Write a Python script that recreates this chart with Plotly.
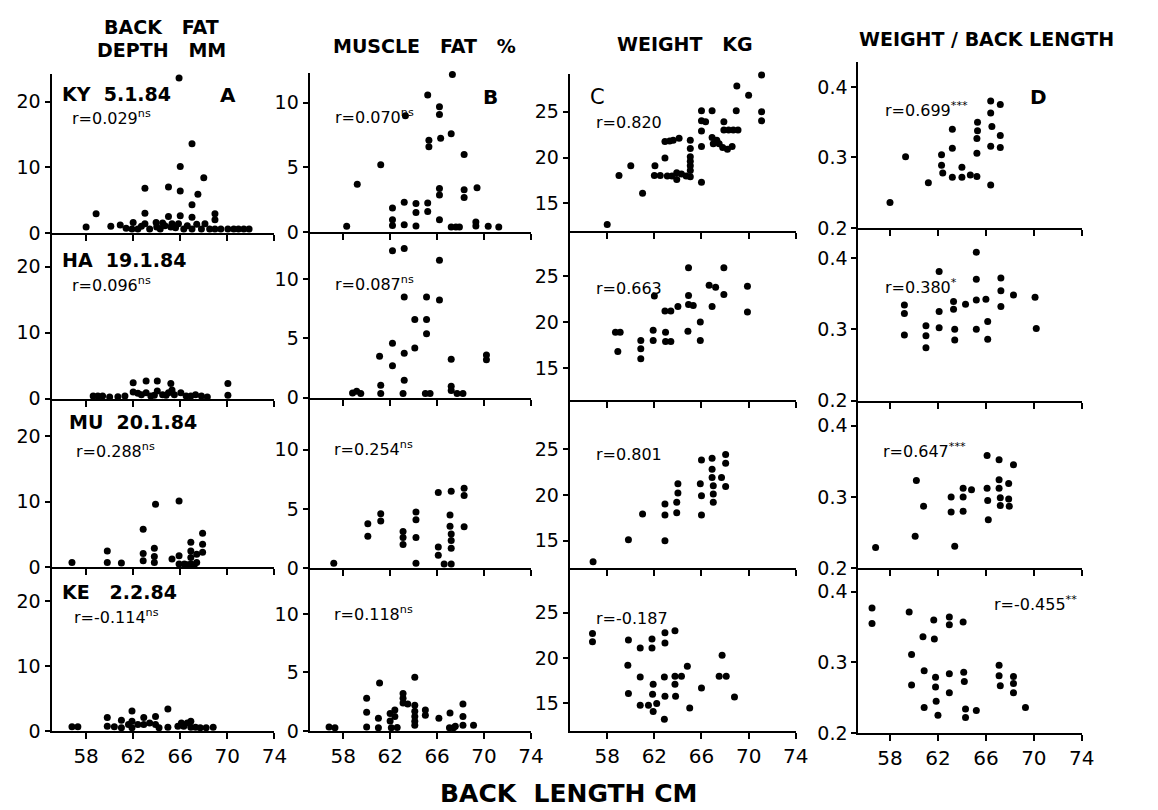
import plotly.graph_objects as go

W, H = 1158, 810

# ---------------- data ----------------
x_ticks = [58, 62, 66, 70, 74]
fat_ticks = [0, 10, 20]
muscle_ticks = [0, 5, 10]
weight_ticks = [15, 20, 25]
ratio_ticks = [0.2, 0.3, 0.4]
ratio_tick_text = ["0.2", "0.3", "0.4"]

# A: back fat depth (mm)
ky_fat_x = [58.0, 58.85, 60.1, 60.9, 61.4, 61.9, 62.0, 62.4, 62.7, 63.0, 63.0, 63.0, 63.4, 63.95, 64.0, 64.3,
            64.5, 64.7, 65.0, 65.0, 65.2, 65.3, 65.6, 65.85, 65.9, 66.0, 66.0, 66.0, 66.3, 66.6, 67.0, 67.0,
            67.0, 67.0, 67.4, 67.5, 67.8, 68.0, 68.1, 68.5, 68.95, 68.95, 68.95, 69.45, 70.05, 70.55, 70.95,
            71.4, 71.85]
ky_fat_y = [0.9, 2.9, 1.0, 1.2, 0.7, 0.6, 1.6, 0.6, 1.0, 6.8, 3.0, 1.4, 0.6, 1.6, 0.9, 0.6,
            1.5, 1.1, 7.0, 2.5, 0.9, 1.4, 0.8, 1.4, 23.6, 10.1, 6.4, 2.6, 0.6, 1.1, 13.6, 4.3,
            2.4, 0.6, 1.3, 5.9, 0.6, 8.4, 1.4, 0.6, 2.9, 2.0, 0.6, 0.6, 0.6, 0.6, 0.6,
            0.6, 0.6]

ha_fat_x = [58.6, 59.0, 59.4, 60.0, 60.7, 61.3, 62.0, 62.0, 62.4, 62.7, 63.1, 63.1, 63.5, 63.8, 64.05, 64.05,
            64.5, 64.8, 65.0, 65.2, 65.3, 65.5, 66.05, 66.5, 66.9, 67.3, 67.8, 68.3, 70.05, 70.05]
ha_fat_y = [0.4, 0.4, 0.4, 0.25, 0.3, 0.4, 2.4, 1.0, 0.8, 0.6, 2.65, 0.9, 0.4, 0.5, 2.65, 1.15,
            0.6, 0.5, 0.9, 2.3, 1.3, 0.6, 0.9, 0.4, 0.4, 0.6, 0.4, 0.25, 2.3, 0.5]

mu_fat_x = [56.8, 59.8, 59.8, 61.0, 62.85, 62.85, 62.85, 63.9, 63.8, 63.8, 63.8, 65.3, 65.9, 65.9, 65.9,
            66.35, 66.6, 66.9, 66.9, 66.9, 66.9, 67.2, 67.4, 67.4, 67.9, 67.9, 67.9]
mu_fat_y = [0.75, 2.5, 0.75, 0.65, 5.8, 2.1, 1.0, 9.6, 2.9, 1.65, 0.75, 1.25, 10.1, 1.75, 0.5,
            0.5, 0.4, 3.8, 2.5, 1.5, 0.5, 0.4, 2.0, 0.75, 5.2, 3.5, 2.3]

ke_fat_x = [56.8, 57.3, 59.8, 59.8, 60.4, 61.0, 61.0, 61.6, 61.9, 61.9, 61.9, 62.4, 62.9, 62.9, 63.4, 63.9,
            63.9, 64.2, 64.95, 64.95, 65.8, 66.1, 66.3, 66.6, 66.9, 66.9, 67.3, 67.7, 68.2, 68.8]
ke_fat_y = [0.65, 0.65, 2.1, 0.75, 0.65, 1.65, 0.5, 1.0, 3.1, 1.5, 0.5, 1.0, 2.1, 1.0, 1.25, 2.25,
            1.0, 0.5, 3.4, 0.6, 0.75, 1.25, 0.75, 1.25, 1.5, 0.6, 0.6, 0.5, 0.5, 0.6]

# B: muscle fat (%)
ky_mus_x = [58.3, 59.2, 61.2, 62.2, 62.2, 62.2, 63.2, 63.2, 63.3, 64.2, 64.2, 64.2, 65.2, 65.3, 65.3, 65.2,
            65.2, 66.2, 66.2, 66.3, 66.2, 66.2, 66.2, 67.3, 67.2, 67.2, 67.6, 67.9, 68.3, 68.3, 68.3, 69.4,
            69.3, 69.3, 70.35, 71.25]
ky_mus_y = [0.43, 3.7, 5.2, 1.86, 0.94, 0.5, 2.3, 0.56, 9.0, 2.2, 1.5, 0.46, 10.6, 7.1, 6.6, 2.24,
            1.58, 9.7, 9.1, 7.25, 3.36, 2.85, 0.94, 12.2, 7.6, 0.38, 0.38, 0.38, 6.0, 3.26, 2.67, 3.43,
            0.76, 0.46, 0.43, 0.38]

ha_mus_x = [58.8, 59.15, 59.5, 61.2, 61.2, 61.1, 62.2, 62.2, 62.2, 63.1, 63.2, 63.2, 63.2, 63.2, 64.1, 64.1,
            65.1, 65.1, 65.1, 65.0, 65.4, 66.2, 66.2, 67.2, 67.2, 67.2, 67.7, 68.2, 70.2, 70.2]
ha_mus_y = [0.4, 0.55, 0.36, 0.36, 1.05, 3.5, 12.4, 4.6, 2.7, 0.36, 12.6, 8.5, 3.75, 1.47, 6.6, 4.2,
            8.5, 6.6, 5.4, 0.36, 0.36, 11.6, 8.25, 3.25, 0.97, 0.6, 0.36, 0.36, 3.6, 3.2]

mu_mus_x = [57.2, 60.1, 60.1, 61.2, 61.2, 63.1, 63.1, 63.1, 64.2, 64.2, 64.2, 64.2, 66.1, 66.1, 66.1, 66.6,
            67.2, 67.1, 67.1, 67.2, 67.2, 67.2, 67.2, 68.3, 68.3, 68.3]
mu_mus_y = [0.42, 3.75, 2.7, 4.6, 4.0, 3.1, 2.6, 2.0, 4.75, 4.1, 2.6, 0.42, 6.4, 1.8, 1.1, 0.36,
            6.5, 4.5, 3.55, 2.9, 2.35, 1.7, 0.36, 6.75, 6.15, 3.5]

ke_mus_x = [56.8, 57.3, 60.0, 60.0, 60.0, 61.1, 61.0, 61.0, 62.0, 62.0, 62.1, 62.4, 62.4, 62.6, 63.1, 63.1,
            63.1, 63.5, 64.1, 64.1, 64.1, 64.1, 64.1, 64.1, 65.0, 65.0, 66.15, 67.1, 67.05, 67.4, 67.55,
            68.2, 68.2, 68.2, 69.1]
ke_mus_y = [0.34, 0.28, 2.8, 1.6, 0.34, 4.1, 1.1, 0.28, 1.5, 0.85, 0.28, 1.8, 1.25, 0.3, 3.2, 2.8,
            2.4, 2.3, 4.6, 2.2, 1.7, 1.25, 0.84, 0.5, 1.8, 1.35, 1.1, 1.55, 0.28, 0.28, 0.42,
            2.3, 1.25, 0.5, 0.5]

# C: weight (kg)
ky_wt_x = [58.0, 59.0, 60.0, 61.0, 62.05, 62.0, 62.5, 63.1, 63.5, 62.9, 62.9, 63.3, 63.6, 64.1, 63.9, 63.9,
           64.3, 64.7, 65.05, 65.05, 65.05, 65.05, 65.05, 65.05, 65.05, 66.0, 66.35, 66.0, 66.0, 66.0, 66.0,
           66.9, 66.9, 67.3, 67.5, 67.0, 67.8, 68.2, 67.9, 67.9, 68.3, 68.7, 69.1, 68.6, 68.95, 69.0, 70.0,
           71.1, 71.1, 71.1]
ky_wt_y = [12.7, 18.05, 19.1, 16.1, 19.1, 18.05, 18.05, 18.0, 18.0, 19.96, 21.76, 21.8, 21.9, 22.1, 17.6, 18.35,
           18.2, 18.0, 21.9, 21.0, 20.1, 19.6, 19.1, 18.6, 17.9, 24.0, 23.9, 22.9, 21.2, 17.3, 25.1,
           25.1, 22.2, 21.9, 21.5, 21.5, 21.1, 20.9, 23.9, 23.0, 23.0, 23.0, 23.0, 21.2, 25.1, 27.8, 26.8,
           29.0, 25.0, 24.0]

ha_wt_x = [58.7, 59.1, 58.9, 60.85, 60.85, 60.85, 61.9, 61.9, 62.0, 62.9, 63.4, 62.95, 62.95, 63.4, 64.0,
           64.9, 64.9, 64.9, 65.3, 64.85, 65.9, 65.9, 66.65, 67.2, 66.9, 67.9, 67.9, 69.9, 69.9]
ha_wt_y = [18.9, 18.9, 16.8, 18.0, 17.1, 16.0, 19.1, 18.0, 22.85, 21.2, 21.2, 18.9, 17.9, 17.9, 21.7,
           25.9, 22.9, 21.9, 21.8, 19.0, 20.0, 18.0, 24.0, 23.8, 21.7, 25.9, 23.0, 23.9, 21.1]

mu_wt_x = [56.8, 59.8, 61.0, 62.9, 62.9, 62.9, 64.0, 64.0, 63.9, 63.9, 66.0, 65.9, 66.0, 66.0, 66.9, 66.9,
           66.9, 67.0, 67.0, 67.0, 67.7, 68.05, 68.05, 68.05]
mu_wt_y = [12.7, 15.1, 17.9, 19.0, 17.8, 15.0, 21.2, 20.2, 19.2, 18.05, 23.8, 21.2, 19.9, 17.8, 24.0, 22.8,
           21.9, 21.0, 20.1, 19.2, 21.9, 24.4, 23.45, 20.9]

ke_wt_x = [56.75, 56.75, 59.8, 59.75, 59.8, 60.8, 60.8, 60.8, 61.5, 61.8, 61.8, 61.9, 61.85, 61.9, 62.2,
           62.9, 62.9, 62.85, 62.9, 62.85, 63.75, 63.75, 64.3, 63.75, 63.8, 64.8, 65.0, 66.0, 67.5, 68.1,
           67.75, 68.8]
ke_wt_y = [22.7, 21.8, 22.0, 19.2, 16.1, 21.1, 17.9, 14.8, 14.8, 22.1, 21.1, 17.1, 16.0, 14.1, 15.0,
           22.8, 21.65, 17.9, 15.8, 13.25, 23.0, 18.0, 18.0, 17.1, 15.8, 19.1, 14.5, 16.7, 18.0, 18.0,
           20.3, 15.7]

# D: weight / back length
ky_rat_x = [58.0, 59.3, 61.2, 62.3, 62.3, 62.4, 63.2, 63.2, 63.2, 64.0, 64.0, 64.7, 65.25, 65.3, 65.3, 65.25,
            65.25, 66.4, 66.4, 66.5, 66.4, 66.4, 67.2, 67.2, 67.2]
ky_rat_y = [0.236, 0.301, 0.264, 0.304, 0.289, 0.278, 0.340, 0.313, 0.272, 0.286, 0.272, 0.275, 0.273, 0.350,
            0.338, 0.327, 0.306, 0.380, 0.363, 0.344, 0.316, 0.261, 0.375, 0.331, 0.314]

ha_rat_x = [59.2, 59.2, 59.2, 61.0, 61.0, 61.0, 62.1, 62.1, 62.1, 63.3, 63.3, 63.4, 63.4, 64.3, 65.2, 65.2,
            65.2, 65.2, 66.0, 66.15, 66.15, 67.25, 67.25, 67.25, 68.3, 70.1, 70.2]
ha_rat_y = [0.334, 0.322, 0.292, 0.305, 0.291, 0.274, 0.381, 0.325, 0.302, 0.339, 0.328, 0.300, 0.285, 0.335,
            0.408, 0.370, 0.341, 0.300, 0.342, 0.311, 0.286, 0.372, 0.354, 0.332, 0.348, 0.345, 0.301]

mu_rat_x = [56.8, 60.1, 60.2, 60.8, 63.1, 63.1, 63.4, 64.1, 64.1, 64.1, 64.8, 66.1, 66.1, 66.15, 66.2, 67.1,
            67.1, 67.1, 67.2, 67.2, 67.9, 67.9, 67.95, 68.3]
mu_rat_y = [0.229, 0.245, 0.323, 0.287, 0.300, 0.279, 0.231, 0.312, 0.300, 0.280, 0.310, 0.358, 0.312, 0.295,
            0.268, 0.352, 0.324, 0.312, 0.299, 0.288, 0.319, 0.297, 0.287, 0.345]

ke_rat_x = [56.5, 56.5, 59.6, 59.8, 59.8, 60.75, 60.85, 60.85, 61.65, 61.7, 61.8, 61.8, 61.85, 62.0, 62.95,
            62.95, 62.95, 62.95, 64.1, 64.15, 64.2, 64.3, 64.3, 65.2, 67.1, 67.1, 67.2, 68.3, 68.3, 68.3, 69.3]
ke_rat_y = [0.377, 0.355, 0.371, 0.311, 0.268, 0.336, 0.288, 0.236, 0.360, 0.333, 0.279, 0.265, 0.245, 0.225,
            0.364, 0.353, 0.284, 0.257, 0.357, 0.286, 0.273, 0.234, 0.222, 0.232, 0.296, 0.281, 0.267, 0.280,
            0.270, 0.257, 0.236]

col_titles = [["BACK   FAT", "DEPTH   MM"], ["MUSCLE   FAT   %"], ["WEIGHT   KG"], ["WEIGHT / BACK LENGTH"]]
x_title = "BACK  LENGTH CM"
site_labels = ["KY  5.1.84", "HA  19.1.84", "MU  20.1.84", "KE   2.2.84"]
letters = ["A", "B", "C", "D"]
r_fat = ["r=0.029<sup>ns</sup>", "r=0.096<sup>ns</sup>", "r=0.288<sup>ns</sup>", "r=-0.114<sup>ns</sup>"]
r_mus = ["r=0.070<sup>ns</sup>", "r=0.087<sup>ns</sup>", "r=0.254<sup>ns</sup>", "r=0.118<sup>ns</sup>"]
r_wt = ["r=0.820", "r=0.663", "r=0.801", "r=-0.187"]
r_rat = ["r=0.699<sup>***</sup>", "r=0.380<sup>*</sup>", "r=0.647<sup>***</sup>", "r=-0.455<sup>**</sup>"]

# ---------------- geometry (pixels) ----------------
FONT = "DejaVu Sans"
cols_px = [(44, 269.4, 55.06), (305, 529, 55.14), (568, 796.7, 54.81), (860, 1086, 55.36)]
rows_px = [
    [(67, 228, 0, 24.2), (228, 396, 0, 25.1), (396, 567, 0, 25.7), (567, 733, 0, 25.2)],
    [(66, 227, 0, 12.3), (227, 395, 0, 14.0), (395, 568, 0, 14.4), (568, 733, 0, 13.9)],
    [(67, 226, 12.0, 29.1), (228, 397, 11.57, 29.7), (397, 568, 11.98, 30.4), (568, 733, 11.95, 29.9)],
    [(55, 223, 0.2, 0.435), (223, 398, 0.2, 0.442), (398, 568, 0.2, 0.435), (568, 735, 0.2, 0.433)],
]
yticks = [(fat_ticks, [str(v) for v in fat_ticks]),
          (muscle_ticks, [str(v) for v in muscle_ticks]),
          (weight_ticks, [str(v) for v in weight_ticks]),
          (ratio_ticks, ratio_tick_text)]

data = [
    [(ky_fat_x, ky_fat_y), (ha_fat_x, ha_fat_y), (mu_fat_x, mu_fat_y), (ke_fat_x, ke_fat_y)],
    [(ky_mus_x, ky_mus_y), (ha_mus_x, ha_mus_y), (mu_mus_x, mu_mus_y), (ke_mus_x, ke_mus_y)],
    [(ky_wt_x, ky_wt_y), (ha_wt_x, ha_wt_y), (mu_wt_x, mu_wt_y), (ke_wt_x, ke_wt_y)],
    [(ky_rat_x, ky_rat_y), (ha_rat_x, ha_rat_y), (mu_rat_x, mu_rat_y), (ke_rat_x, ke_rat_y)],
]


def px(x):
    return x / W


def py(y):
    return 1 - y / H


fig = go.Figure()
layout = {}
k = 0
for c in range(4):
    xl, xr, xmin = cols_px[c]
    for r in range(4):
        k += 1
        yt, yb, ymin, ymax = rows_px[c][r]
        xs, ys = data[c][r]
        sfx = "" if k == 1 else str(k)
        fig.add_trace(go.Scatter(
            x=xs, y=ys, mode="markers", xaxis="x" + sfx, yaxis="y" + sfx,
            marker=dict(size=7, color="black", line=dict(width=0)),
            cliponaxis=False, showlegend=False, hoverinfo="x+y"))
        layout["xaxis" + sfx] = dict(
            domain=[px(xl), px(xr)], range=[xmin, 74], anchor="y" + sfx,
            tickvals=x_ticks, ticktext=[str(v) for v in x_ticks],
            showticklabels=(r == 3), showline=True, linecolor="black", linewidth=2,
            ticks="outside", ticklen=6, tickwidth=2, tickcolor="black",
            showgrid=False, zeroline=False,
            tickfont=dict(family=FONT, size=20, color="black"))
        tv, tt = yticks[c]
        layout["yaxis" + sfx] = dict(
            domain=[py(yb), py(yt)], range=[ymin, ymax], anchor="x" + sfx,
            tickvals=tv, ticktext=tt,
            showline=True, linecolor="black", linewidth=2,
            ticks="outside", ticklen=5, tickwidth=2, tickcolor="black",
            showgrid=False, zeroline=False,
            tickfont=dict(family=FONT, size=19, color="black"))

ann = []


def text(s, x, y, size, bold=False, xanchor="left", yanchor="middle"):
    ann.append(dict(text=("<b>%s</b>" % s) if bold else s, x=px(x), y=py(y),
                    xref="paper", yref="paper", showarrow=False,
                    xanchor=xanchor, yanchor=yanchor,
                    font=dict(family=FONT, size=size, color="black")))


# column titles
text(col_titles[0][0], 155, 19, 19, True, "center")
text(col_titles[0][1], 155, 43, 19, True, "center")
text(col_titles[1][0], 421, 39, 19, True, "center")
text(col_titles[2][0], 685, 36, 19, True, "center")
text(col_titles[3][0], 990, 31, 19, True, "center")
text(x_title, 567, 796, 25, True, "center")

# site / date labels (column A)
site_y = [87, 255, 420, 592]
site_x = [53, 53, 60, 53]
for i in range(4):
    text(site_labels[i], site_x[i], site_y[i], 19, True)

# panel letters
text(letters[0], 223, 88, 20, True, "center")
text(letters[1], 488, 90, 20, True, "center")
text(letters[2], 596, 90, 21, False, "center")
text(letters[3], 1042, 90, 20, True, "center")

# correlation labels
rf_pos = [(63, 111), (63, 280), (67, 449), (65, 617)]
rm_pos = [(329, 110), (329, 279), (328, 447), (328, 614)]
rw_pos = [(593, 116), (593, 284), (593, 453), (593, 619)]
rr_pos = [(885, 103), (885, 282), (883, 449), (995, 604)]
for i in range(4):
    text(r_fat[i], rf_pos[i][0], rf_pos[i][1], 16)
    text(r_mus[i], rm_pos[i][0], rm_pos[i][1], 16)
    text(r_wt[i], rw_pos[i][0], rw_pos[i][1], 16)
    text(r_rat[i], rr_pos[i][0], rr_pos[i][1], 16)

fig.update_layout(
    width=W, height=H, margin=dict(l=0, r=0, t=0, b=0),
    paper_bgcolor="white", plot_bgcolor="white",
    showlegend=False, annotations=ann, **layout)

fig.write_html("out.html")
